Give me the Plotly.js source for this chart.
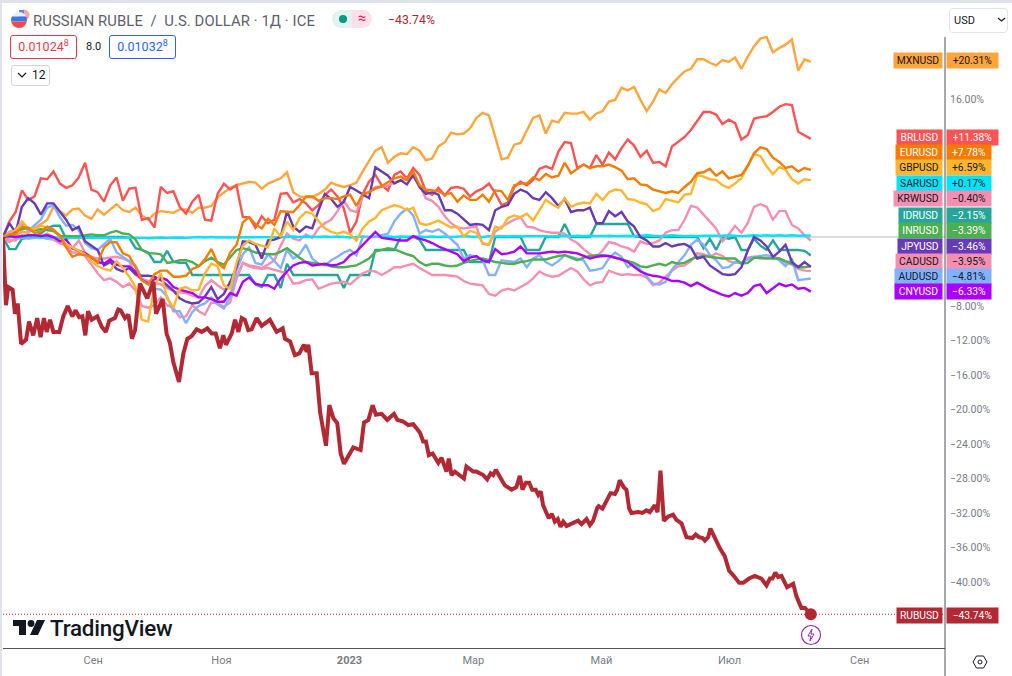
<!DOCTYPE html>
<html>
<head>
<meta charset="utf-8">
<script src="https://cdn.plot.ly/plotly-3.0.1.min.js"></script>
<style>
html,body{margin:0;padding:0;background:#fff;width:1012px;height:676px;overflow:hidden;font-family:Roboto,"Open Sans",sans-serif}
#chart{position:absolute;left:0;top:0;width:1012px;height:676px}
.ui{position:absolute;white-space:nowrap;box-sizing:border-box}
.chip{height:24px;line-height:22px;border-radius:3px;border:1px solid;font-size:12.5px;text-align:center;background:#fff}
.chip sup{font-size:9px;line-height:0}
</style>
</head>
<body>
<div id="chart"></div>
<div class="ui" style="left:0;top:0;width:1012px;height:3px;background:#e0e3eb"></div>
<div class="ui" style="left:0;top:0;width:2px;height:676px;background:#e0e3eb"></div>
<svg class="ui" style="left:10px;top:9px" width="20" height="20" viewBox="0 0 20 20">
  <circle cx="14" cy="6" r="5.5" fill="#f7a8a8"/><rect x="9" y="1" width="5" height="5" fill="#5b8ee6"/>
  <clipPath id="c"><circle cx="9" cy="11" r="8"/></clipPath>
  <g clip-path="url(#c)"><rect x="0" y="2" width="18" height="5.5" fill="#eceff5"/><rect x="0" y="7.5" width="18" height="5" fill="#3b78e7"/><rect x="0" y="12.5" width="18" height="7" fill="#ef4b4b"/></g>
</svg>
<div class="ui" style="left:33px;top:11px;font-size:14.8px;line-height:20px;color:#5d606b;letter-spacing:.1px">RUSSIAN RUBLE&nbsp; / &nbsp;U.S. DOLLAR · 1Д · ICE</div>
<div class="ui" style="left:332px;top:10px;width:20px;height:18px;background:#e0f3ef;border-radius:9px 0 0 9px"></div>
<div class="ui" style="left:352px;top:10px;width:20px;height:18px;background:#fbe0ea;border-radius:0 9px 9px 0;color:#e91e63;font-size:15px;line-height:17px;text-align:center">≈</div>
<div class="ui" style="left:339px;top:15px;width:8px;height:8px;border-radius:50%;background:#089981"></div>
<div class="ui" style="left:388px;top:11px;font-size:12.3px;line-height:18px;color:#b22833">−43.74%</div>
<div class="ui chip" style="left:10px;top:35px;width:67px;color:#f23645;border-color:#f23645">0.01024<sup>8</sup></div>
<div class="ui" style="left:86px;top:38px;font-size:11px;line-height:18px;color:#131722">8.0</div>
<div class="ui chip" style="left:109px;top:35px;width:67px;color:#2962ff;border-color:#2962ff">0.01032<sup>8</sup></div>
<div class="ui" style="left:11px;top:65px;width:39px;height:21px;border:1px solid #d1d4dc;border-radius:3px;font-size:12px;line-height:19px;color:#131722;padding-left:20px">12</div>
<svg class="ui" style="left:17px;top:71px" width="10" height="8"><path d="M1 2 L5 6 L9 2" fill="none" stroke="#131722" stroke-width="1.2"/></svg>
<div class="ui" style="left:949px;top:8px;width:59px;height:25px;border:1px solid #e0e3eb;border-radius:4px;font-size:11px;line-height:23px;color:#131722;padding-left:4px">USD</div>
<svg class="ui" style="left:997px;top:16px" width="9" height="8"><path d="M1 2 L4.5 5 L8 2" fill="none" stroke="#131722" stroke-width="1.2"/></svg>
<svg class="ui" style="left:13px;top:619px" width="32" height="18" viewBox="0 0 32 18">
  <path d="M0 1 H13 V16 H6 V7 H0 Z" fill="#131722"/><circle cx="18" cy="4.5" r="3.4" fill="#131722"/><path d="M24 1 H32 L25 16 H17 Z" fill="#131722"/>
</svg>
<div class="ui" style="left:50px;top:615px;font-size:22.4px;line-height:26px;font-weight:500;color:#131722;letter-spacing:-.2px">TradingView</div>
<svg class="ui" style="left:800px;top:624px" width="22" height="22" viewBox="0 0 22 22">
  <circle cx="11" cy="11" r="9.5" fill="#fff" stroke="#9c27b0" stroke-width="1.2"/><path d="M12 5 L8 12 H11 L10 17 L14 10 H11 Z" fill="none" stroke="#9c27b0" stroke-width="1"/>
</svg>
<svg class="ui" style="left:972px;top:654px" width="16" height="16" viewBox="0 0 16 16">
  <path d="M4.5 2 H11.5 L15 8 L11.5 14 H4.5 L1 8 Z" fill="none" stroke="#131722" stroke-width="1"/><circle cx="8" cy="8" r="2" fill="none" stroke="#131722" stroke-width="1"/>
</svg>
<script>
const MXN=[0,0.3,0.2,0.6,0.5,1.0,1.4,2.0,3.5,3.0,
2.5,3.2,3.3,2.5,2.1,3.2,2.6,3.2,3.8,3.1,
2.9,3.4,2.5,2.0,2.7,3.0,2.9,2.8,3.2,3.2,
2.8,3.4,3.4,3.6,4.6,5.1,5.7,6.0,6.2,6.4,
6.3,5.6,6.2,6.5,6.8,7.5,5.2,4.7,4.6,4.6,
5.0,5.5,6.3,6.0,5.8,6.0,6.3,7.6,8.8,10.0,
10.4,8.6,9.3,9.7,9.6,10.4,10.0,8.9,9.1,10.5,
11.0,12.1,11.9,12.0,12.6,13.8,14.4,14.1,11.6,9.0,
9.2,10.7,10.9,12.3,13.8,14.1,12.0,13.5,13.3,14.4,
14.3,14.3,14.5,13.6,14.3,14.6,15.7,15.9,17.3,17.0,
17.4,15.9,14.6,15.7,17.1,16.7,17.7,18.5,19.2,19.5,
20.6,20.6,20.2,19.9,20.5,20.3,20.8,19.5,20.9,22.1,
23.0,23.2,21.4,21.9,22.3,22.9,19.3,20.6,20.31];
const BRL=[0,1.8,2.9,5.4,4.3,4.7,6.8,6.7,7.6,6.2,
5.7,6.0,6.9,8.6,5.5,5.2,4.1,6.0,6.9,4.2,
5.6,5.7,2.0,2.2,1.1,5.8,5.1,5.3,3.5,2.7,
4.1,4.9,2.0,1.9,5.0,6.2,5.5,6.0,2.3,2.3,
1.1,2.4,1.6,2.0,5.0,5.1,4.0,4.4,3.9,3.1,
3.7,4.9,5.5,4.7,3.3,0.5,1.8,5.0,6.4,7.2,
6.0,5.4,7.2,7.6,6.8,8.0,7.2,5.3,4.9,5.7,
4.8,5.7,5.8,5.6,4.7,5.3,5.6,6.2,5.1,3.7,
4.0,5.8,6.4,6.0,6.6,7.9,8.2,7.9,9.9,11.0,
10.9,8.0,8.4,8.0,9.5,8.4,9.8,9.0,10.3,11.3,
10.6,9.3,10.0,8.6,8.7,8.2,10.5,11.0,11.6,12.4,
13.4,14.5,14.5,14.2,13.1,13.6,13.2,11.3,11.8,13.7,
13.9,14.0,14.5,15.1,15.4,15.3,12.2,11.8,11.38];
const EUR=[0,0.3,0.4,1.2,1.0,0.5,0.6,1.2,0.8,0.2,
-1.2,-2.3,-2.0,-2.1,-2.3,-3.0,-1.2,-0.6,-0.6,-1.9,
-2.2,-3.5,-5.0,-5.5,-4.3,-3.9,-3.9,-4.6,-4.6,-4.5,
-3.7,-3.4,-2.6,-1.4,-3.0,-3.6,-1.8,-0.9,1.7,2.3,
1.5,1.0,2.1,1.4,3.0,2.9,2.9,3.7,4.7,4.7,
4.2,4.5,4.5,4.4,4.7,4.9,3.6,5.0,5.2,5.6,
5.9,6.4,6.8,7.0,6.6,7.6,6.0,5.5,5.4,5.3,
4.9,5.1,4.1,4.8,4.3,4.3,4.9,4.1,5.4,5.3,
4.3,6.0,6.2,6.2,6.9,6.6,7.3,6.9,7.1,8.6,
7.4,7.9,8.4,8.0,8.2,8.2,8.4,8.1,7.7,6.7,
6.8,6.1,6.0,5.5,5.3,5.1,5.3,5.1,5.8,6.4,
7.4,7.5,7.9,7.1,7.6,6.8,7.0,7.2,8.2,9.7,
10.4,10.2,9.2,8.7,8.0,8.2,7.6,8.0,7.78];
const GBP=[0,0.5,0.8,1.8,1.0,0.9,1.3,1.1,0.9,0.1,
-0.8,-1.2,-1.6,-2.0,-2.8,-3.4,-3.7,-3.9,-2.8,-3.6,
-4.6,-5.8,-9.6,-9.8,-5.7,-4.2,-7.1,-8.2,-6.0,-5.8,
-6.2,-6.1,-4.2,-3.1,-3.4,-5.6,-6.0,-3.0,-1.0,-0.4,
-0.8,-1.0,-1.2,1.0,0,1.8,0.8,2.2,2.9,2.7,
1.8,1.0,0.6,0.4,0.6,0.3,-0.4,1.0,1.8,2.2,
3.1,3.4,3.7,3.5,3.1,3.4,1.6,1.4,1.6,1.9,
1.5,1.1,1.2,0.1,0.7,0.5,-0.7,-0.9,1.2,1.0,
2.2,2.5,2.3,2.7,1.9,3.1,4.3,3.8,3.4,4.5,
3.5,3.8,4.0,3.9,5.0,4.3,5.2,5.5,5.4,4.4,
4.3,4.0,3.8,3.0,3.3,4.4,4.2,4.0,4.9,5.0,
7.2,7.0,6.7,6.6,6.0,5.7,6.2,6.8,8.3,9.6,
9.4,8.2,7.3,8.1,7.8,6.7,6.2,6.7,6.59];
const SAR=[0,0,-0.05,-0.05,0,-0.05,-0.05,-0.1,-0.05,-0.05,
-0.1,-0.05,-0.05,-0.1,-0.05,-0.1,-0.05,-0.1,-0.1,-0.05,
-0.05,-0.1,-0.1,-0.15,-0.1,-0.05,-0.1,-0.05,-0.05,-0.1,
-0.05,0,-0.05,0,-0.05,-0.05,0,-0.05,0,-0.05,
0,-0.05,0,0,-0.05,0,0.05,0,0.05,0,
0,0.05,0,0.05,0,-0.05,0,0.05,0,0.05,
0,0.05,0,0.05,0,0.05,0.05,0,0.05,0,
0.05,0,0.05,0.1,0.05,0.05,0,0.1,0.05,0.1,
0.05,0.1,0.05,0.1,0.1,0.15,0.1,0.05,0.1,0.15,
0.1,0.15,0.1,0.15,0.1,0.15,0.15,0.1,0.15,0.15,
0.1,0.15,0.2,0.15,0.1,0.15,0.2,0.15,0.1,0.15,
0.1,0.15,0.15,0.1,0.15,0.2,0.15,0.1,0.15,0.2,
0.15,0.2,0.15,0.2,0.15,0.2,0.15,0.2,0.17];
const KRW=[0,-0.3,-0.4,0.2,-0.2,-0.1,0,-0.2,-0.3,-0.7,
-1.0,-1.3,-0.4,-1.8,-2.3,-2.5,-2.5,-2.4,-2.3,-2.5,
-2.8,-4.4,-4.9,-5.1,-5.3,-5.5,-5.9,-6.3,-6.4,-6.5,
-6.8,-7.0,-5.7,-5.0,-5.6,-6.1,-5.8,-4.8,-3.0,-3.3,
-3.4,-3.6,-3.2,-2.7,-1.0,0.4,-0.2,-0.4,0.3,-0.1,
1.0,1.6,2.0,3.0,4.2,3.1,2.9,4.7,5.2,5.8,
5.8,6.0,6.3,6.5,6.8,7.0,6.0,4.5,4.2,3.5,
2.4,1.6,1.1,1.0,1.1,1.2,-0.8,-0.9,0.6,1.2,
1.6,2.0,2.3,1.2,1.1,0.8,0.6,0.5,0.5,0.4,
-0.3,-0.7,-1.4,-2.0,-2.3,-1.6,-0.6,-0.75,-1.1,-1.3,
-1.7,-0.5,-0.8,-0.7,-0.4,0.5,0.8,0.8,2.0,3.6,
3.4,2.6,1.9,1.0,-0.5,0.3,1.3,0.5,1.6,3.5,
3.8,3.5,2.0,3.0,3.0,1.4,1.0,0.2,-0.4];
const CAD=[0,-0.6,-0.2,-0.1,0,0.2,0.1,0.4,0,-0.4,
-1.0,-1.8,-1.8,-2.2,-3.2,-4.2,-5.0,-4.8,-5.2,-5.8,
-5.4,-6.2,-8.0,-8.2,-7.9,-7.0,-7.9,-8.2,-9.3,-9.2,
-7.9,-8.6,-9.0,-7.6,-7.7,-8.1,-7.6,-4.8,-3.0,-3.4,
-3.6,-3.7,-3.6,-3.8,-4.0,-4.2,-5.4,-5.3,-5.0,-4.9,
-6.0,-5.7,-5.4,-5.3,-5.2,-5.5,-4.8,-4.2,-3.9,-4.0,
-4.4,-4.0,-3.5,-3.5,-3.3,-3.1,-3.6,-4.0,-4.4,-4.4,
-4.4,-4.5,-4.6,-5.1,-5.4,-5.5,-5.6,-6.6,-6.8,-6.2,
-6.0,-6.2,-5.8,-5.4,-4.8,-4.0,-4.4,-4.6,-4.5,-4.0,
-3.6,-4.0,-4.9,-5.6,-5.3,-5.2,-3.9,-4.2,-4.4,-4.3,
-4.4,-4.4,-4.7,-5.6,-5.3,-4.6,-3.9,-3.4,-3.3,-2.8,
-1.9,-2.0,-2.3,-1.9,-2.2,-2.8,-3.0,-3.0,-2.4,-2.3,
-2.5,-2.4,-2.3,-2.5,-3.0,-3.2,-3.7,-3.9,-3.95];
const IDR=[0,-1.4,-1.4,-0.2,-0.1,0.1,0.4,1.0,1.3,1.3,
-0.2,0,0,0,0,0,0,0,0,0,
-0.1,-1.3,-1.5,-1.8,-2.9,-2.9,-1.6,-2.9,-3.0,-3.0,
-4.4,-4.4,-4.4,-4.4,-4.4,-4.4,-4.4,-4.4,-4.4,-4.4,
-5.5,-5.8,-4.4,-4.4,-5.9,-3.1,-4.4,-4.4,-4.4,-4.4,
-4.4,-4.4,-4.4,-4.4,-5.9,-4.4,-4.4,-4.4,-4.4,-1.5,
-1.5,-1.5,-1.5,0,0,0,-0.3,-1.5,-1.5,-1.5,
-1.5,-1.5,-1.5,-1.5,-2.9,-2.9,-2.9,-2.9,0,0,
0,0,0,-1.5,-1.5,-1.5,0,0,0,1.5,
0,0,0,0,1.5,1.5,1.5,1.5,1.5,1.5,
0.1,0,0,0,0,0,0,0,0,0,
0,-1.3,-0.2,-1.5,0,-0.2,0,-1.5,-1.5,-0.2,
-1.0,-1.5,-0.4,-1.5,-1.5,-1.5,-1.5,-1.6,-2.15];
const INR=[0,0.4,0.6,0.9,1.1,0.8,0.9,0.8,0.7,0.1,
0.1,0.1,0.1,0.2,0.3,0.2,0.2,0.5,0.7,0.4,
0.3,-0.3,-1.5,-1.9,-1.9,-2.0,-3.0,-2.9,-2.7,-2.7,
-2.9,-3.4,-2.8,-2.4,-2.9,-3.2,-2.3,-1.5,-1.3,-1.5,
-1.8,-1.9,-2.0,-2.0,-1.7,-1.3,-1.9,-2.4,-2.9,-3.0,
-3.1,-3.2,-3.4,-3.5,-3.5,-3.4,-3.3,-2.9,-2.5,-1.7,
-1.5,-1.3,-1.4,-1.7,-2.0,-2.2,-2.9,-3.3,-3.1,-3.1,
-3.3,-3.4,-3.3,-3.0,-2.8,-2.6,-2.5,-2.7,-2.9,-3.0,
-3.1,-3.1,-2.9,-2.8,-2.6,-2.6,-2.6,-2.4,-2.2,-2.1,
-2.4,-2.7,-2.4,-2.2,-2.1,-2.1,-2.2,-2.4,-2.6,-2.8,
-3.0,-3.4,-3.5,-3.3,-3.1,-3.3,-2.9,-3.1,-3.0,-2.6,
-2.3,-2.2,-2.3,-2.4,-2.5,-2.5,-2.5,-3.1,-3.0,-2.4,
-2.4,-2.5,-2.5,-2.5,-2.8,-3.1,-3.5,-3.5,-3.39];
const JPY=[0,1.6,0.5,3.5,4.5,3.9,2.6,3.9,3.9,2.9,
2.0,0.8,1.2,-0.5,-1.0,-1.5,-3.3,-2.9,-3.7,-4.0,
-3.6,-4.3,-4.5,-4.5,-4.6,-5.0,-5.6,-6.2,-7.1,-7.5,
-7.7,-7.6,-6.9,-5.8,-7.2,-6.6,-5.2,-3.5,-0.5,-0.6,
-0.9,-2.5,-0.4,-0.3,0,3.0,1.2,0.6,1.2,1.0,
3.1,5.0,4.4,3.5,4.1,5.8,5.4,4.9,4.5,8.1,
7.6,7.1,6.2,6.6,6.1,7.2,5.8,5.0,5.2,4.9,
3.1,3.1,2.7,2.0,1.4,1.5,1.4,0.8,3.1,3.5,
3.7,5.0,5.5,5.2,4.5,4.3,5.2,4.5,3.6,4.4,
2.9,3.1,3.1,3.4,1.6,1.6,3.0,2.4,2.9,1.8,
1.2,0,-0.4,-1.1,-1.1,-0.7,-1.1,-0.9,-0.8,-1.2,
-2.5,-2.3,-3.3,-3.8,-4.3,-4.4,-4.3,-3.5,-1.6,0,
-0.4,-1.1,-2.3,-1.7,-0.9,-2.9,-3.5,-2.9,-3.46];
const AUD=[0,0.6,0.9,1.6,0.7,1.3,2.0,3.4,3.7,2.3,
1.3,1.4,0.8,-0.7,-1.3,-1.5,-0.8,-0.2,-1.8,-2.3,
-2.7,-3.3,-4.8,-5.3,-6.0,-6.1,-6.9,-8.6,-8.6,-10.0,
-8.7,-8.0,-7.7,-7.0,-7.8,-8.3,-6.9,-3.9,-2.0,-1.2,
-3.0,-3.2,-2.0,-2.8,-3.6,-1.5,-2.5,-2.0,-0.9,-2.5,
-3.1,-3.3,-2.7,-2.3,-1.8,-1.5,-2.1,0,0,0,
0.2,0.4,1.8,2.7,3.3,2.5,0.4,0.8,0.6,0.9,
0.4,-0.2,-0.9,-2.5,-2.1,-2.3,-2.7,-4.4,-4.4,-2.7,
-2.8,-2.9,-2.5,-3.5,-2.5,-2.1,-2.9,-3.3,-2.8,-2.1,
-2.3,-2.5,-2.7,-3.9,-3.8,-3.6,-2.5,-1.8,-2.3,-3.5,
-3.1,-3.8,-4.6,-5.4,-5.5,-5.2,-3.8,-2.9,-2.1,-0.9,
-0.3,-0.9,-2.1,-2.7,-3.6,-3.5,-2.9,-3.0,-2.6,-2.3,
-2.2,-2.1,-2.3,-2.7,-3.4,-2.5,-5.0,-4.9,-4.81];
const CNY=[0,0.1,0,0.1,0.2,0.2,0.1,0.2,0,-0.5,
-0.3,-1.3,-1.6,-1.9,-2.4,-2.9,-3.1,-2.6,-3.2,-3.4,
-3.4,-4.0,-5.0,-5.4,-4.9,-4.7,-5.0,-5.8,-6.1,-6.3,
-6.5,-7.0,-7.0,-7.2,-7.5,-7.5,-6.5,-6.8,-5.2,-4.7,
-5.4,-5.6,-5.6,-6.0,-4.8,-4.0,-3.3,-3.0,-2.9,-3.3,
-3.2,-3.1,-3.3,-3.2,-2.9,-2.1,-1.7,-0.9,-0.1,0.6,
-0.1,-0.2,-0.3,-0.4,-0.4,0.1,-0.2,-0.4,-0.7,-1.1,
-1.4,-1.7,-2.0,-2.8,-2.4,-2.2,-2.7,-2.9,-1.4,-2.0,
-1.9,-1.7,-1.1,-1.9,-1.9,-1.9,-1.8,-1.7,-1.8,-1.7,
-1.8,-1.9,-2.2,-2.5,-2.3,-2.2,-2.2,-2.4,-2.6,-2.9,
-3.5,-4.0,-4.3,-4.5,-4.6,-4.8,-5.1,-5.1,-5.3,-5.7,
-5.3,-5.7,-6.1,-6.4,-6.7,-6.9,-6.5,-6.8,-6.5,-5.7,
-5.5,-6.5,-6.0,-5.4,-5.7,-5.5,-6.0,-5.9,-6.33];
const rubDays=[0,1.4,2.5,4.6,5.7,7,8.6,11,12.4,14.4,16.3,17.9,19.5,20.8,22.4,24,26.8,28.7,30.8,33,34.6,36.3,37.8,39.2,40.5,42.2,44.9,47,49,50.6,53.3,54.9,56,58.1,59.7,61.4,62.9,65.2,68.7,71.6,72.9,76,77.9,79.5,81.1,83.8,85.9,87.8,89.8,92.2,94.6,97.3,99.4,101.3,103.3,104.9,106.2,108.9,110.5,112.1,113.7,115.2,116.8,118.4,120.8,123.2,127.1,130.3,133.2,134.3,136.7,139,141.1,143.3,144.6,145.4,147,149.4,151,153.8,155.4,157.3,159.2,160.8,162.4,166.8,170.3,171.9,174,176,177.6,180.3,183,186.2,187.8,190.6,193,195.4,198.6,200.1,201.4,202.8,204.6,207.3,208.8,211.2,212.3,213.6,215.2,219.5,220.7,223.9,225.5,228.7,230.6,232.2,233.4,234.7,239,242.2,244.5,246.1,247.4,249,250.6,252,253.7,254.9,256.1,257.2,259.9,261.4,262.8,264.2,265.5,266.8,268.4,270.7,273.9,275.5,277.9,279.5,281,283,283.7,285.5,289.3,291.4,292.5,293.7,295.6,296.9,298.2,299.3,302.5,304.5,306.4,308,310.4,311.7,313.1,314.7,316.8,319.1,320.7,323.1,325.5,328.3,329.9,331.4,333.1,334.2,335.8,336.9,339,341.4,343.7,345.8,347.7,350.6,352.5,355.3,358,361.2,363.6,365.2,366.4,367.8,369.1,370.7,373.4,376.3,377.9,380.2,381.9,384.7];
const RUB=[0,-7.9,-5.8,-6.1,-8.9,-7.7,-12.4,-11.9,-9.8,-11.4,-9.4,-11.6,-9.4,-11.0,-9.6,-11.0,-11.0,-9.2,-8.0,-9.2,-8.5,-9.3,-9.2,-11.4,-8.6,-9.6,-9.2,-10.4,-11.0,-9.7,-9.4,-8.4,-8.5,-9.4,-9.0,-11.8,-10.8,-5.4,-7.1,-5.2,-8.9,-7.2,-11.2,-12.3,-14.5,-16.8,-13.5,-11.8,-11.5,-10.7,-11.0,-10.6,-11.2,-11.2,-12.9,-11.4,-12.5,-11.2,-9.6,-11.0,-9.4,-9.6,-10.8,-10.7,-9.4,-10.3,-9.6,-11.0,-10.6,-11.8,-12.1,-13.7,-13.5,-12.5,-13.3,-12.5,-15.8,-15.8,-20.3,-24.2,-19.5,-21.0,-21.6,-25.1,-26.3,-24.4,-24.7,-21.5,-21.2,-19.5,-20.6,-20.5,-21.2,-20.5,-21.2,-21.4,-21.8,-21.7,-22.7,-23.7,-23.7,-25.3,-25.1,-26.2,-25.6,-27.2,-25.7,-27.6,-27.2,-28.0,-26.6,-27.2,-27.2,-27.6,-28.1,-27.4,-27.6,-27.0,-28.8,-29.3,-29.0,-27.7,-29.3,-28.5,-28.5,-29.3,-29.3,-29.9,-29.5,-31.1,-32.6,-32.1,-33.0,-32.7,-33.6,-33.0,-33.5,-33.2,-32.9,-33.3,-32.7,-33.4,-32.9,-31.4,-31.2,-31.5,-29.7,-29.8,-29.3,-28.2,-29.0,-29.3,-31.5,-32.0,-31.9,-32.0,-31.7,-31.9,-31.1,-31.9,-27.1,-32.9,-32.4,-32.2,-32.8,-33.2,-34.8,-34.9,-34.5,-34.8,-34.9,-35.2,-34.8,-33.8,-35.0,-36.1,-37.0,-38.7,-39.2,-40.1,-40.1,-39.6,-39.3,-39.6,-40.4,-39.6,-39.6,-38.9,-39.4,-39.3,-40.6,-40.2,-41.7,-43.0,-43.0,-43.74];

const symbols=["IDRUSD","MXNUSD","BRLUSD","KRWUSD","CADUSD","SARUSD","AUDUSD","INRUSD","JPYUSD","CNYUSD","GBPUSD","EURUSD"];
const seriesValues=[IDR,MXN,BRL,KRW,CAD,SAR,AUD,INR,JPY,CNY,GBP,EUR];
const lineColors=["#26a69a","#ffa53c","#ff5252","#f48fb1","#f48fb1","#00e5ff","#82b1ff","#4caf50","#673ab7","#aa00ff","#ffb62e","#f57c00"];

const labelNames=["MXNUSD","BRLUSD","EURUSD","GBPUSD","SARUSD","KRWUSD","IDRUSD","INRUSD","JPYUSD","CADUSD","AUDUSD","CNYUSD","RUBUSD"];
const labelValues=["+20.31%","+11.38%","+7.78%","+6.59%","+0.17%","−0.40%","−2.15%","−3.39%","−3.46%","−3.95%","−4.81%","−6.33%","−43.74%"];
const labelFill=["#ffa53c","#ff5252","#f57c00","#ffb62e","#00e5ff","#f48fb1","#26a69a","#4caf50","#673ab7","#f48fb1","#82b1ff","#aa00ff","#b22833"];
const labelText=["#131722","#fff","#fff","#131722","#131722","#131722","#fff","#fff","#fff","#131722","#131722","#fff","#fff"];
const labelY=[61,137,152,167,183,198,215,230,246,261,277,292,615];
const labelLeft=[895,898,897,897,898,895,900,900,899,897,896,896,898];
const labelRight=[997,997,990,990,990,990,990,990,990,990,990,990,997];

const yTickVals=[16,-8,-12,-16,-20,-24,-28,-32,-36,-40];
const yTickText=["16.00%","−8.00%","−12.00%","−16.00%","−20.00%","−24.00%","−28.00%","−32.00%","−36.00%","−40.00%"];
const xTickVals=["2022-09-01","2022-11-01","2023-01-01","2023-03-01","2023-05-01","2023-07-01","2023-09-01"];
const xTickText=["Сен","Ноя","<b>2023</b>","Мар","Май","Июл","Сен"];

const W=1012,H=676,L=3,R=945,T=9,B=648;
const startMs=Date.UTC(2022,6,20);
const toDate=d=>new Date(startMs+d*86400000).toISOString().slice(0,19).replace("T"," ");
const gridStep=384.7/128;
const gridDates=MXN.map((_,i)=>toDate(i*gridStep));
const rubDates=rubDays.map(toDate);

const traces=symbols.map((s,k)=>({
  x:gridDates,y:seriesValues[k],name:s,type:"scatter",mode:"lines",
  line:{color:lineColors[k],width:2.4,shape:"linear"},hoverinfo:"skip"
}));
traces.push({x:rubDates,y:RUB,name:"RUBUSD",type:"scatter",mode:"lines",line:{color:"#b22833",width:4,shape:"linear"},hoverinfo:"skip"});
traces.push({x:[rubDates[rubDates.length-1]],y:[RUB[RUB.length-1]],type:"scatter",mode:"markers",marker:{color:"#b22833",size:12},hoverinfo:"skip",cliponaxis:false});

const px=x=>(x-L)/(R-L), py=y=>(B-y)/(B-T);
const annotations=[];
labelNames.forEach((n,k)=>{
  const font={family:"Roboto, sans-serif",size:10.3,color:labelText[k]};
  annotations.push({xref:"paper",yref:"paper",x:px(943),y:py(labelY[k]),xanchor:"right",yanchor:"middle",
    width:943-labelLeft[k],height:15,text:n,showarrow:false,bgcolor:labelFill[k],font,align:"center",borderpad:0});
  annotations.push({xref:"paper",yref:"paper",x:px(946),y:py(labelY[k]),xanchor:"left",yanchor:"middle",
    width:labelRight[k]-946,height:15,text:labelValues[k],showarrow:false,bgcolor:labelFill[k],font,align:"center",borderpad:0});
});

const layout={
  width:W,height:H,margin:{l:L,r:W-R,t:T,b:H-B,pad:0},
  paper_bgcolor:"rgba(0,0,0,0)",plot_bgcolor:"rgba(0,0,0,0)",showlegend:false,
  font:{family:"Roboto, sans-serif",size:10.5,color:"#787b86"},
  xaxis:{type:"date",range:[toDate(0),toDate(448.6)],tickmode:"array",tickvals:xTickVals,ticktext:xTickText,ticklabelstandoff:2,
    showgrid:false,zeroline:false,showline:true,linecolor:"#50535e",linewidth:1,ticks:"",tickfont:{size:11,color:"#787b86"},tickangle:0},
  yaxis:{range:[-(B-237)/8.625,(237-T)/8.625],side:"right",tickmode:"array",tickvals:yTickVals,ticktext:yTickText,ticklabelstandoff:4,
    showgrid:false,zeroline:false,showline:false,ticks:"",tickfont:{size:10.5,color:"#787b86"}},
  shapes:[
    {type:"line",xref:"paper",yref:"paper",x0:1,x1:1,y0:py(676),y1:py(37),line:{color:"#50535e",width:1}},
    {type:"line",xref:"paper",yref:"y",x0:0,x1:1,y0:0,y1:0,layer:"below",line:{color:"#b2b5be",width:1}},
    {type:"line",xref:"paper",yref:"y",x0:0,x1:1,y0:-43.74,y1:-43.74,layer:"below",line:{color:"#b22833",width:1,dash:"1px,2px"}}
  ],
  annotations
};
Plotly.newPlot("chart",traces,layout,{staticPlot:true,displayModeBar:false});
</script>
</body>
</html>
